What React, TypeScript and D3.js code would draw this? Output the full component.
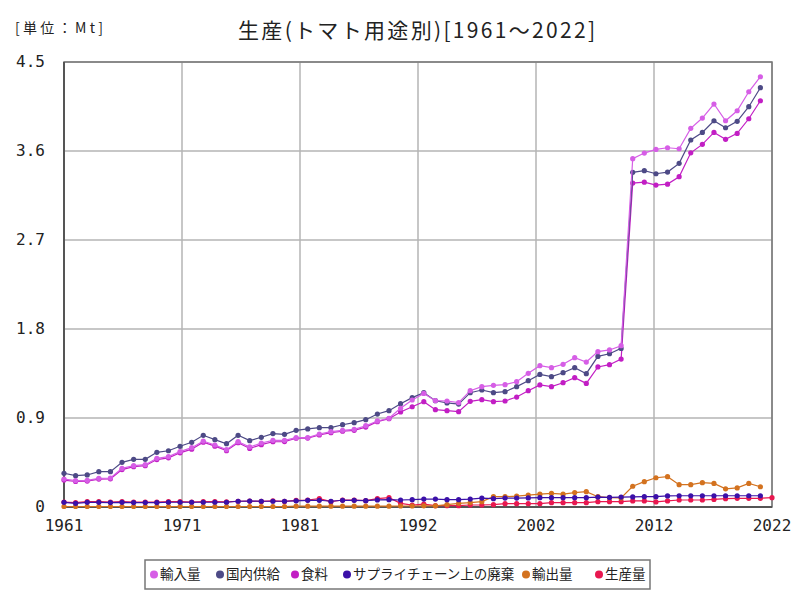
import React from "react";
import * as d3 from "d3";

const years: number[] = d3.range(1961, 2022);
const yearsProd: number[] = d3.range(1961, 2023);

const importVals = [0.283,0.266,0.270,0.290,0.293,0.391,0.418,0.428,0.492,0.509,
0.560,0.600,0.667,0.627,0.580,0.661,0.607,0.647,0.674,0.674,
0.701,0.701,0.738,0.762,0.775,0.785,0.822,0.870,0.897,0.998,
1.082,1.149,1.075,1.072,1.055,1.176,1.217,1.230,1.237,1.267,
1.352,1.429,1.409,1.443,1.510,1.466,1.571,1.588,1.631,3.522,
3.579,3.616,3.633,3.623,3.829,3.933,4.075,3.906,4.007,4.199,4.351];

const supplyVals = [0.341,0.317,0.324,0.357,0.357,0.452,0.482,0.482,0.553,0.569,
0.614,0.654,0.725,0.681,0.640,0.725,0.671,0.705,0.742,0.735,
0.775,0.790,0.802,0.802,0.832,0.853,0.883,0.940,0.974,1.045,
1.106,1.156,1.075,1.052,1.041,1.156,1.183,1.156,1.166,1.217,
1.277,1.341,1.318,1.358,1.409,1.348,1.523,1.550,1.604,3.384,
3.401,3.370,3.387,3.475,3.711,3.788,3.906,3.835,3.900,4.048,4.240];

const foodVals = [0.272,0.258,0.262,0.282,0.285,0.378,0.408,0.418,0.480,0.497,
0.548,0.585,0.655,0.615,0.570,0.650,0.592,0.630,0.660,0.662,
0.695,0.697,0.728,0.752,0.766,0.775,0.808,0.863,0.893,0.961,
1.014,1.065,0.984,0.974,0.964,1.069,1.085,1.065,1.072,1.112,
1.176,1.234,1.217,1.257,1.308,1.250,1.416,1.439,1.496,3.276,
3.285,3.255,3.265,3.340,3.582,3.667,3.788,3.718,3.778,3.926,4.108];

const wasteVals = [0.047,0.037,0.047,0.047,0.045,0.047,0.045,0.045,0.045,0.048,
0.048,0.048,0.048,0.048,0.048,0.058,0.060,0.058,0.058,0.058,
0.062,0.067,0.068,0.058,0.068,0.068,0.064,0.072,0.074,0.071,
0.074,0.080,0.080,0.074,0.074,0.080,0.090,0.084,0.090,0.090,
0.092,0.094,0.094,0.094,0.094,0.094,0.100,0.097,0.100,0.102,
0.104,0.104,0.112,0.114,0.114,0.114,0.114,0.114,0.114,0.114,0.114];

const exportVals = [0.005,0.005,0.005,0.005,0.005,0.005,0.005,0.005,0.005,0.005,
0.005,0.005,0.005,0.005,0.005,0.005,0.005,0.005,0.005,0.005,
0.008,0.008,0.008,0.008,0.008,0.008,0.008,0.008,0.008,0.010,
0.010,0.012,0.012,0.024,0.037,0.045,0.054,0.104,0.104,0.110,
0.121,0.130,0.138,0.130,0.146,0.155,0.104,0.094,0.091,0.210,
0.256,0.296,0.307,0.226,0.226,0.246,0.238,0.184,0.193,0.238,0.205];

const prodVals = [0.050,0.045,0.055,0.055,0.050,0.055,0.050,0.050,0.050,0.055,
0.055,0.050,0.055,0.055,0.052,0.058,0.060,0.056,0.062,0.056,
0.066,0.071,0.084,0.054,0.071,0.071,0.064,0.084,0.094,0.037,
0.020,0.030,0.013,0.013,0.013,0.020,0.020,0.024,0.034,0.034,
0.034,0.034,0.044,0.044,0.044,0.044,0.054,0.054,0.054,0.061,
0.061,0.051,0.061,0.071,0.071,0.071,0.077,0.084,0.088,0.088,0.088,0.094];

const seriesNames = ["輸入量", "国内供給", "食料", "サプライチェーン上の廃棄", "輸出量", "生産量"];
const seriesColors = ["#d65ee6", "#4d4a86", "#c21ec4", "#3b10a8", "#d3721f", "#e8184f"];
const seriesData = [importVals, supplyVals, foodVals, wasteVals, exportVals, prodVals];
const seriesYears = [years, years, years, years, years, yearsProd];

const yTicks = [0, 0.9, 1.8, 2.7, 3.6, 4.5];
const xTickLabels = ["1961", "1971", "1981", "1992", "2002", "2012", "2022"];

const legendDotX = [154, 220, 295, 347, 526, 599];

const FONT = "'Noto Sans CJK JP', 'Noto Sans', sans-serif";
const MONO = "'DejaVu Sans Mono', 'Liberation Mono', monospace";

export default function App() {
  const left = 64, right = 772, top = 62, bottom = 507;
  const x = d3.scaleLinear().domain([1961, 2022]).range([left, right]);
  const y = d3.scaleLinear().domain([0, 4.5]).range([bottom, top]);
  const xTickVals = d3.range(0, 7).map((i) => 1961 + (61 * i) / 6);

  const line = d3.line<[number, number]>().x((d) => x(d[0])).y((d) => y(d[1]));

  const order = [5, 4, 3, 2, 1, 0];

  return (
    <svg width={800} height={600} style={{ position: "absolute", left: 0, top: 0, background: "#fff" }}>
      <rect x={0} y={0} width={800} height={600} fill="#fff" />
      <text x={15} y={33} fontSize={14} fontFamily={FONT} fill="#222" textLength={88} lengthAdjust="spacing">[単位：Mt]</text>
      <text x={238} y={38} fontSize={21} fontFamily={FONT} fill="#222" textLength={357} lengthAdjust="spacing">
        生産(トマト用途別)[1961〜2022]
      </text>
      {yTicks.map((t) => (
        <g key={"y" + t}>
          <line x1={left} x2={right} y1={y(t)} y2={y(t)} stroke="#b5b5b5" strokeWidth={1.5} />
          <text x={45} y={y(t)} fontSize={16} fontFamily={MONO} fill="#222" textAnchor="end" dominantBaseline="middle">
            {String(t)}
          </text>
        </g>
      ))}
      {xTickVals.map((t, i) => (
        <g key={"x" + i}>
          <line x1={x(t)} x2={x(t)} y1={top} y2={bottom} stroke="#b5b5b5" strokeWidth={1.5} />
          <text x={x(t)} y={526} fontSize={16} fontFamily={MONO} fill="#222" textAnchor="middle" dominantBaseline="middle">
            {xTickLabels[i]}
          </text>
        </g>
      ))}
      <rect x={left} y={top} width={right - left} height={bottom - top} fill="none" stroke="#777" strokeWidth={1.5} />
      <line x1={left} x2={left} y1={top} y2={bottom} stroke="#555" strokeWidth={2} />
      <line x1={left} x2={right} y1={bottom} y2={bottom} stroke="#555" strokeWidth={2} />
      {order.map((si) => {
        const pts: [number, number][] = seriesData[si].map((v, i) => [seriesYears[si][i], v]);
        return (
          <g key={"s" + si}>
            <path d={line(pts) || ""} fill="none" stroke={seriesColors[si]} strokeWidth={1.2} />
            {pts.map((p, i) => (
              <circle key={i} cx={x(p[0])} cy={y(p[1])} r={2.6} fill={seriesColors[si]} />
            ))}
          </g>
        );
      })}
      <rect x={145} y={560} width={505} height={29} fill="#fff" stroke="#777" strokeWidth={1.5} />
      {seriesNames.map((n, i) => (
        <g key={"l" + i}>
          <circle cx={legendDotX[i]} cy={574.5} r={4} fill={seriesColors[i]} />
          <text x={legendDotX[i] + 6} y={575} fontSize={13.5} fontFamily={FONT} fill="#222" dominantBaseline="middle">
            {n}
          </text>
        </g>
      ))}
    </svg>
  );
}
